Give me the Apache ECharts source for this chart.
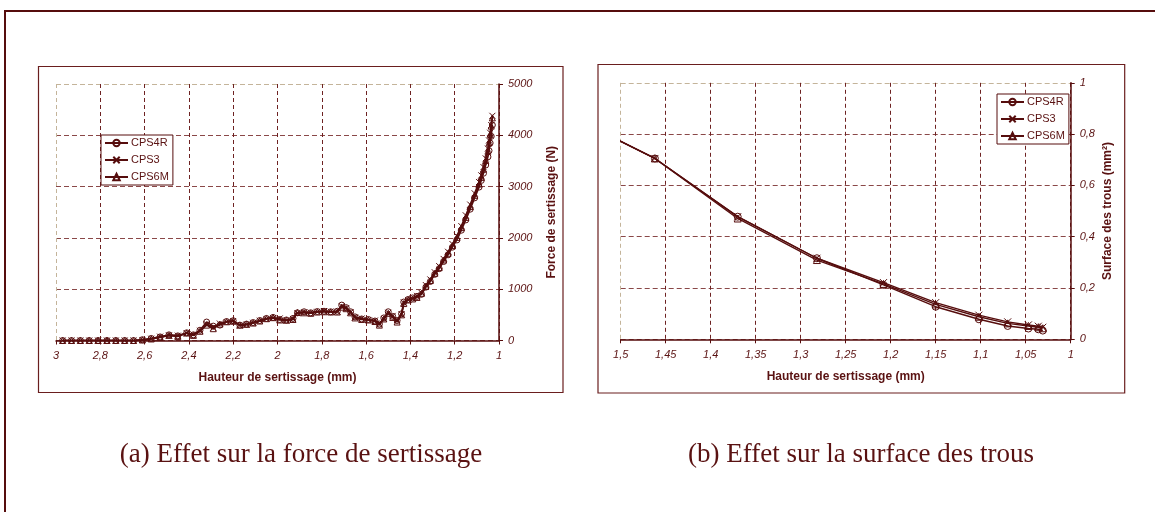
<!DOCTYPE html>
<html>
<head>
<meta charset="utf-8">
<script src="https://cdn.jsdelivr.net/npm/echarts@6/dist/echarts.min.js"></script>
<style>
html,body{margin:0;padding:0;background:#fff;}
#chart{width:1155px;height:512px;}
</style>
</head>
<body>
<div id="chart"></div>
<script>
// ---------- Data: (a) crimping force vs crimp height ----------
const seriesNames = ['CPS4R', 'CPS3', 'CPS6M'];
const forceHeights = [2.97,2.93,2.89,2.85,2.81,2.77,2.73,2.69,2.65,2.61,2.57,2.53,2.49,2.45,2.41,2.38,2.35,2.32,2.29,2.26,2.23,2.20,2.17,2.14,2.11,2.08,2.05,2.02,1.99,1.96,1.93,1.91,1.88,1.85,1.82,1.79,1.76,1.73,1.71,1.69,1.67,1.65,1.62,1.59,1.56,1.54,1.52,1.50,1.48,1.46,1.44,1.43,1.41,1.39,1.37,1.35,1.33,1.31,1.29,1.27,1.25,1.23,1.21,1.19,1.17,1.15,1.13,1.11,1.09,1.08,1.07,1.06,1.05,1.045,1.04,1.035,1.03];
const forceCPS4R = [0,0,0,0,0,0,0,0,0,15,40,70,110,90,150,110,200,360,280,300,370,385,300,320,350,390,430,450,410,400,430,540,560,540,565,570,560,570,690,640,560,460,420,410,380,320,440,560,470,390,520,750,800,830,860,900,1040,1150,1290,1400,1540,1670,1820,1960,2150,2350,2560,2780,2990,3120,3260,3420,3580,3700,3850,3980,4200];
const forceCPS3 = [0,0,0,0,0,0,0,0,0,10,35,75,100,95,140,120,190,320,250,330,360,380,290,310,345,385,420,440,430,390,420,530,550,545,560,575,565,560,670,630,550,450,430,400,390,330,420,540,480,400,510,740,790,820,870,930,1080,1190,1330,1450,1590,1730,1880,2040,2230,2440,2650,2870,3090,3220,3380,3550,3740,3900,4050,4200,4380];
const forceCPS6M = [0,0,0,0,0,0,0,0,0,10,30,60,100,80,145,100,180,300,230,320,365,375,300,315,340,380,425,445,400,395,410,545,540,530,555,560,555,555,650,620,540,440,410,400,370,300,420,530,450,360,500,720,790,810,840,920,1060,1170,1310,1420,1570,1700,1850,2010,2200,2400,2610,2830,3050,3180,3340,3510,3690,3850,4020,4180,4340];

// ---------- Data: (b) hole surface vs crimp height ----------
const surfHeights = [1.55,1.462,1.37,1.282,1.208,1.15,1.102,1.07,1.047,1.036,1.031];
const surfCPS4R = [0.86,0.705,0.478,0.316,0.212,0.127,0.078,0.052,0.042,0.039,0.034];
const surfCPS3  = [0.86,0.705,0.478,0.316,0.221,0.143,0.094,0.068,0.056,0.051,0.047];
const surfCPS6M = [0.86,0.705,0.471,0.309,0.216,0.136,0.088,0.062,0.052,0.047,0.043];

// ---------- Text ----------
const xTitle = 'Hauteur de sertissage (mm)';
const yTitleA = 'Force de sertissage (N)';
const yTitleB = 'Surface des trous (mm²)';
const captionA = '(a) Effet sur la force de sertissage';
const captionB = '(b) Effet sur la surface des trous';

// ---------- Styling ----------
const DARK = '#560d0d';
const TEXT = '#5a1212';
const VGRID = '#6e2222';
const HGRID = '#8a4848';
const EDGE = '#c4b49a';
const SANS = '"Liberation Sans", Arial, sans-serif';
const crossPath = 'path://M0,0L10,10M10,0L0,10';
const symbols = ['circle', crossPath, 'triangle'];

function pair(xs, ys) { return xs.map((x, i) => [x, ys[i]]); }
function fmt(v) { return String(Math.round(v * 1000) / 1000).replace('.', ','); }

function vColors(n) { const a = []; for (let i = 0; i < n; i++) a.push(i === n - 1 ? EDGE : VGRID); return a; }
function hColors(n) { const a = []; for (let i = 0; i < n; i++) a.push(i === n - 1 ? EDGE : HGRID); return a; }

function xAxisCfg(gi, min, max, interval, nTicks) {
  return {
    type: 'value', gridIndex: gi, min: min, max: max, interval: interval, inverse: true,
    position: 'bottom',
    axisLine: { show: true, onZero: false, lineStyle: { color: DARK, width: 1.5 } },
    axisTick: { show: true, inside: false, length: 4, lineStyle: { color: DARK, width: 1 } },
    axisLabel: { margin: 10, color: TEXT, fontSize: 11, fontStyle: 'italic', fontFamily: SANS, formatter: fmt },
    splitLine: { show: true, lineStyle: { color: vColors(nTicks), type: [4, 3], width: 1 } },
    name: xTitle, nameLocation: 'middle', nameGap: 31,
    nameTextStyle: { color: TEXT, fontSize: 12, fontWeight: 'bold', fontFamily: SANS }
  };
}
function yAxisCfg(gi, min, max, interval, nTicks, title, gap) {
  return {
    type: 'value', gridIndex: gi, min: min, max: max, interval: interval, position: 'right',
    axisLine: { show: true, onZero: false, lineStyle: { color: DARK, width: 1.5 } },
    axisTick: { show: true, inside: false, length: 4, lineStyle: { color: DARK, width: 1 } },
    axisLabel: { margin: 9, color: TEXT, fontSize: 11, fontStyle: 'italic', fontFamily: SANS, formatter: fmt },
    splitLine: { show: true, lineStyle: { color: hColors(nTicks), type: [5, 3], width: 1 } },
    name: title, nameLocation: 'middle', nameGap: gap, nameRotate: 90,
    nameTextStyle: { color: TEXT, fontSize: 12, fontWeight: 'bold', fontFamily: SANS }
  };
}

function mkSeries(name, idx, gi, data, size, lw) {
  return {
    type: 'line', name: name, xAxisIndex: gi, yAxisIndex: gi, data: data,
    symbol: symbols[idx], symbolSize: size, showAllSymbol: true, clip: true,
    lineStyle: { color: DARK, width: lw },
    itemStyle: { color: 'rgba(255,255,255,0)', borderColor: DARK, borderWidth: 1 },
    emphasis: { disabled: true }, animation: false, z: 3 + idx
  };
}

function legendCfg(left, top) {
  return {
    data: seriesNames, orient: 'vertical', left: left, top: top,
    backgroundColor: '#fff', borderColor: DARK, borderWidth: 1,
    padding: [2, 4, 2, 3], itemGap: 5, itemWidth: 23, itemHeight: 8,
    textStyle: { color: TEXT, fontSize: 11, fontFamily: SANS, lineHeight: 12, padding: [0, 0, 0, -2] },
    selectedMode: false
  };
}

const chart = echarts.init(document.getElementById('chart'), null, { renderer: 'canvas' });
chart.setOption({
  backgroundColor: '#fff',
  animation: false,
  grid: [
    { left: 56, top: 84, width: 443, height: 256.5 },
    { left: 620.7, top: 82.8, width: 450, height: 256.5 }
  ],
  xAxis: [
    xAxisCfg(0, 1, 3, 0.2, 11),
    xAxisCfg(1, 1, 1.5, 0.05, 11)
  ],
  yAxis: [
    yAxisCfg(0, 0, 5000, 1000, 6, yTitleA, 47),
    yAxisCfg(1, 0, 1, 0.2, 6, yTitleB, 31)
  ],
  legend: [legendCfg(101, 135), legendCfg(997, 94)],
  series: [
    mkSeries(seriesNames[0], 0, 0, pair(forceHeights, forceCPS4R), 6, 1.6),
    mkSeries(seriesNames[1], 1, 0, pair(forceHeights, forceCPS3), 6, 1.6),
    mkSeries(seriesNames[2], 2, 0, pair(forceHeights, forceCPS6M), 6, 1.6),
    mkSeries(seriesNames[0], 0, 1, pair(surfHeights, surfCPS4R), 7, 1.4),
    mkSeries(seriesNames[1], 1, 1, pair(surfHeights, surfCPS3), 7, 1.4),
    mkSeries(seriesNames[2], 2, 1, pair(surfHeights, surfCPS6M), 7, 1.4)
  ],
  graphic: [
    { type: 'rect', silent: true, shape: { x: 5, y: 11, width: 1400, height: 800 },
      style: { fill: 'none', stroke: DARK, lineWidth: 2 } },
    { type: 'rect', silent: true, shape: { x: 38.5, y: 66.5, width: 524.5, height: 326 },
      style: { fill: 'none', stroke: '#6a1e1e', lineWidth: 1.2 } },
    { type: 'rect', silent: true, shape: { x: 598, y: 64.5, width: 526.7, height: 328.5 },
      style: { fill: 'none', stroke: '#6a1e1e', lineWidth: 1.2 } },
    { type: 'text', silent: true, style: { text: captionA, x: 301, y: 455, textAlign: 'center', textVerticalAlign: 'middle',
      font: '27px "Liberation Serif", "Times New Roman", serif', fill: TEXT } },
    { type: 'text', silent: true, style: { text: captionB, x: 861, y: 455, textAlign: 'center', textVerticalAlign: 'middle',
      font: '27px "Liberation Serif", "Times New Roman", serif', fill: TEXT } }
  ]
});
</script>
</body>
</html>
